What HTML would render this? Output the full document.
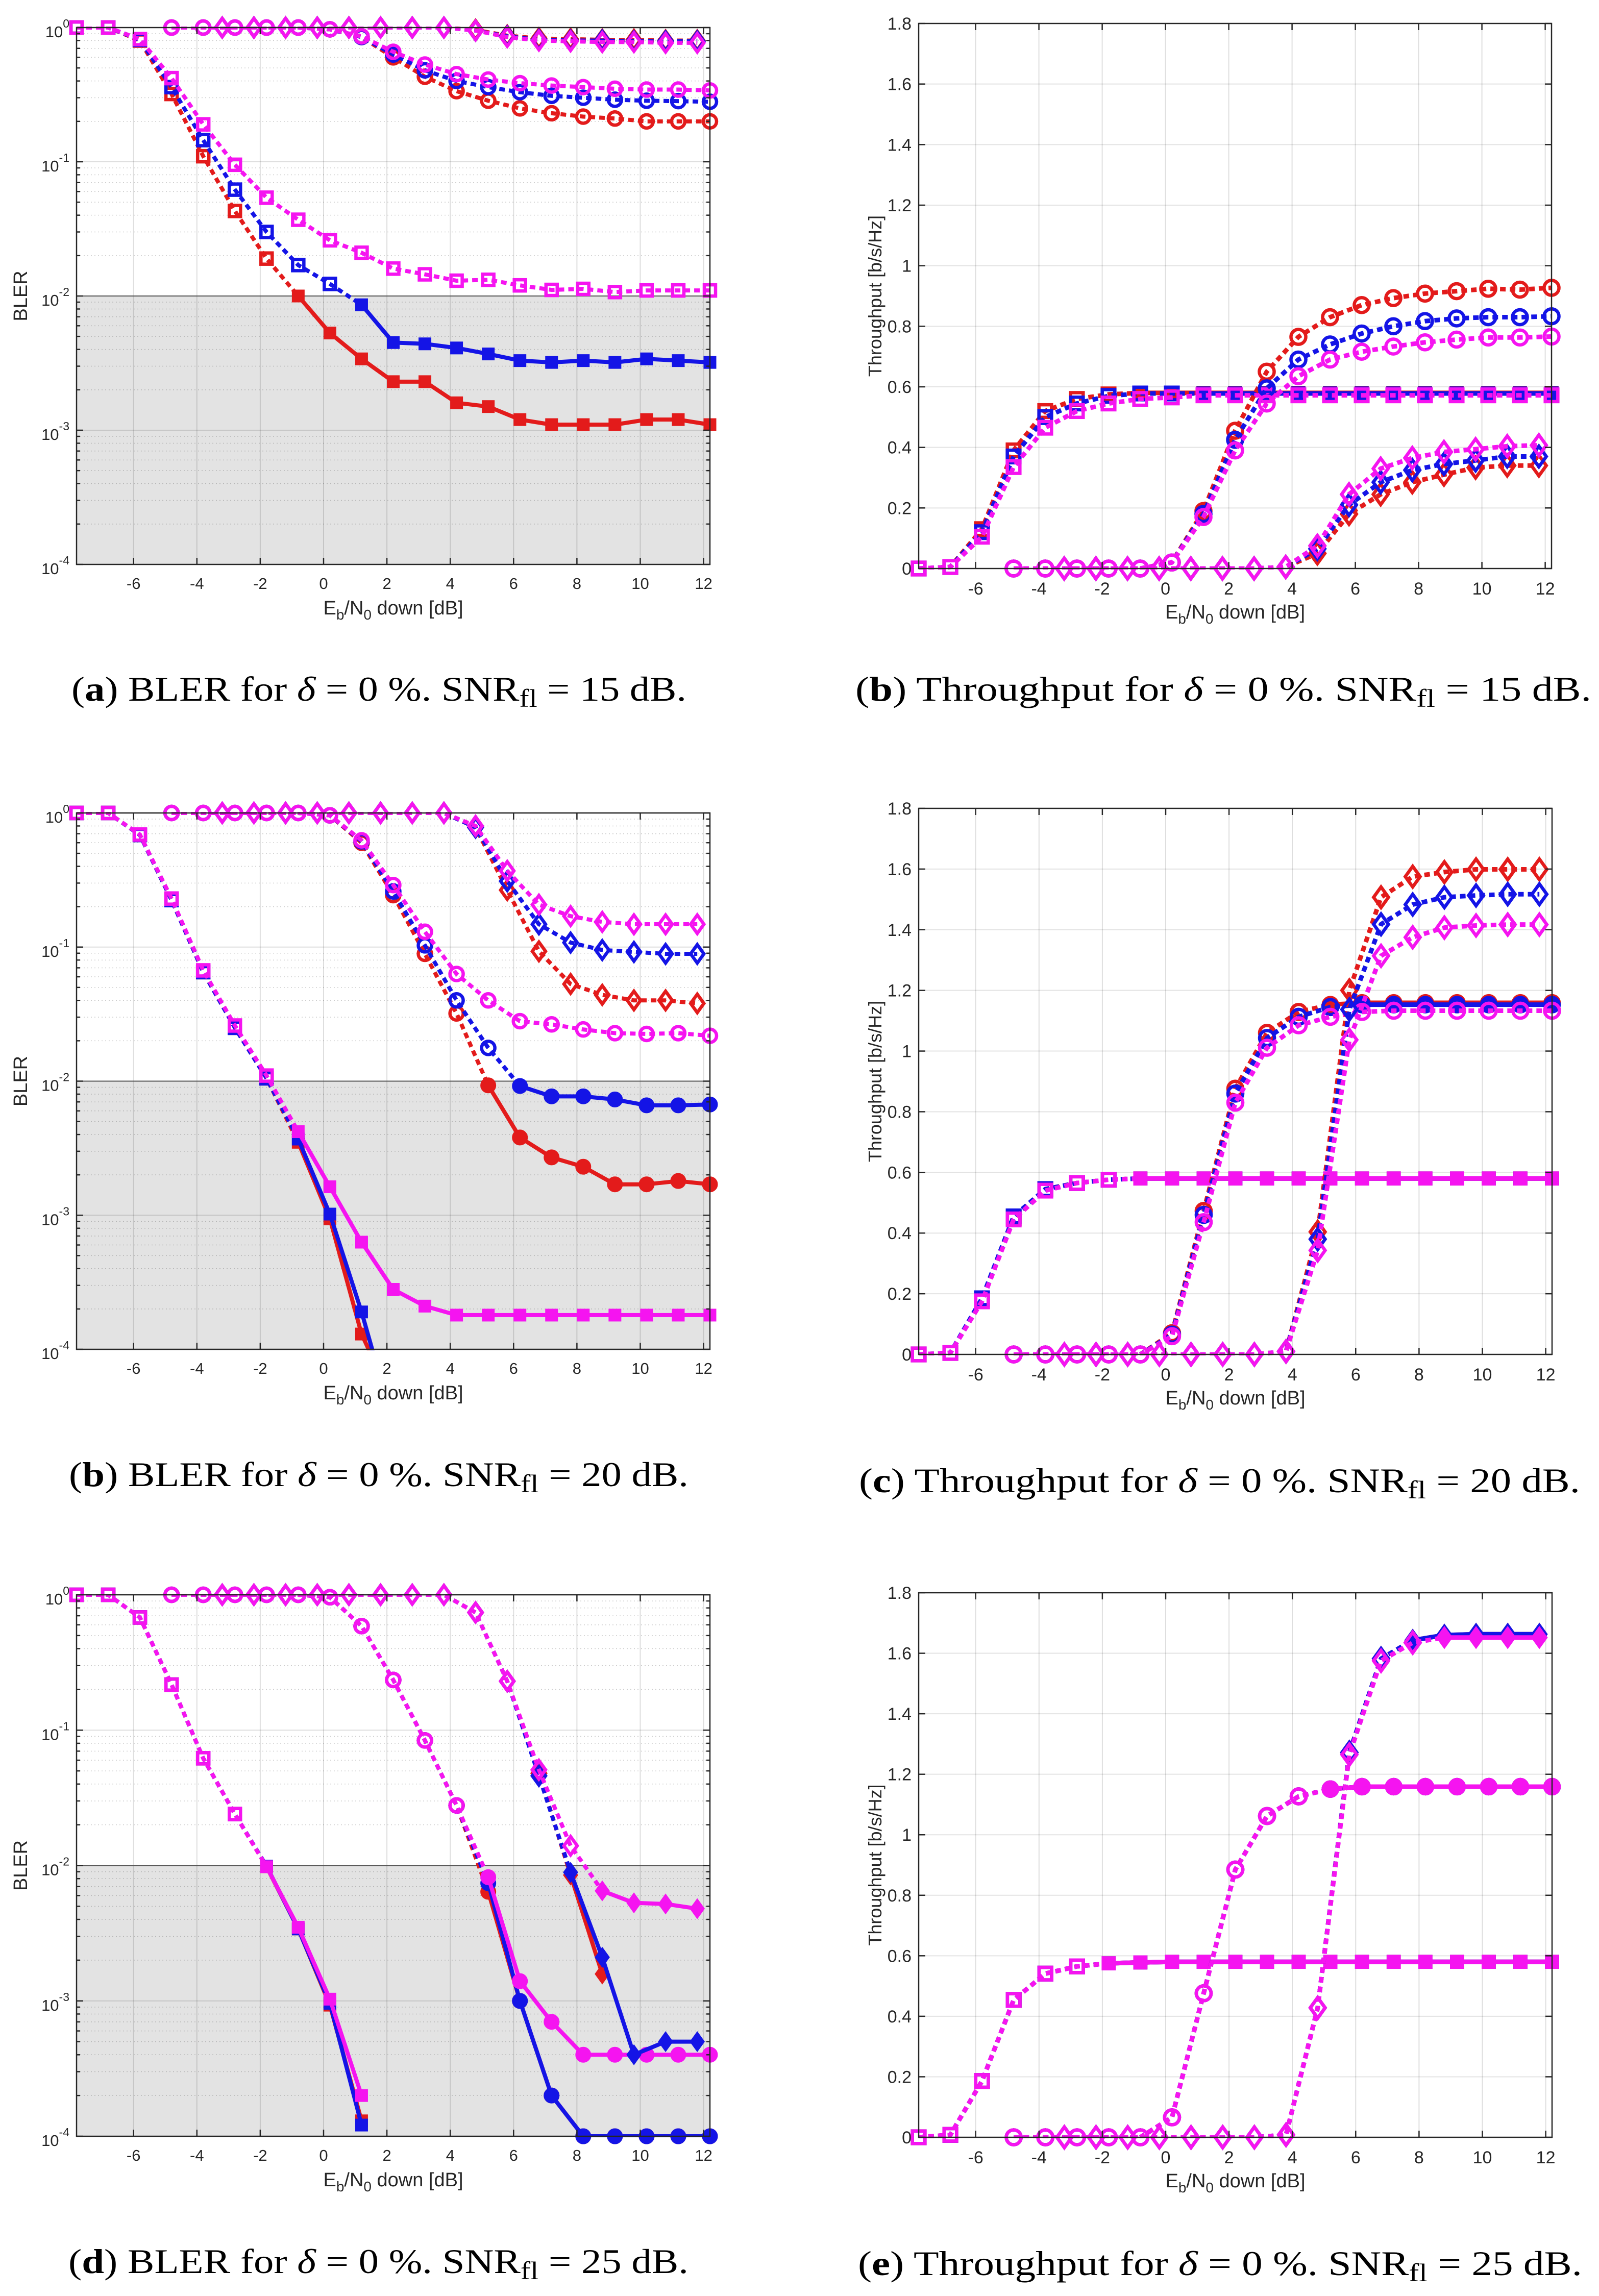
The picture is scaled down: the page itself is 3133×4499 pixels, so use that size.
<!DOCTYPE html>
<html><head><meta charset="utf-8"><title>BLER and throughput figure</title>
<style>
html,body{margin:0;padding:0;background:#fff;}
svg{display:block;}
</style></head>
<body>
<svg id="fig" width="3133" height="4499" viewBox="0 0 3133 4499" xmlns="http://www.w3.org/2000/svg">
<rect x="0" y="0" width="3133" height="4499" fill="#fff"/>
<g font-family="'Liberation Serif', serif" font-size="68" fill="#000">
<text x="140" y="1373" textLength="1205" lengthAdjust="spacingAndGlyphs">(<tspan font-weight="bold">a</tspan>) BLER for <tspan font-style="italic">δ</tspan> = 0 %. SNR<tspan font-size="50" dy="12">fl</tspan><tspan dy="-12"> = 15 dB.</tspan></text>
<text x="1676" y="1373" textLength="1442" lengthAdjust="spacingAndGlyphs">(<tspan font-weight="bold">b</tspan>) Throughput for <tspan font-style="italic">δ</tspan> = 0 %. SNR<tspan font-size="50" dy="12">fl</tspan><tspan dy="-12"> = 15 dB.</tspan></text>
<text x="135" y="2912" textLength="1214" lengthAdjust="spacingAndGlyphs">(<tspan font-weight="bold">b</tspan>) BLER for <tspan font-style="italic">δ</tspan> = 0 %. SNR<tspan font-size="50" dy="12">fl</tspan><tspan dy="-12"> = 20 dB.</tspan></text>
<text x="1683" y="2924" textLength="1413" lengthAdjust="spacingAndGlyphs">(<tspan font-weight="bold">c</tspan>) Throughput for <tspan font-style="italic">δ</tspan> = 0 %. SNR<tspan font-size="50" dy="12">fl</tspan><tspan dy="-12"> = 20 dB.</tspan></text>
<text x="134" y="4454" textLength="1215" lengthAdjust="spacingAndGlyphs">(<tspan font-weight="bold">d</tspan>) BLER for <tspan font-style="italic">δ</tspan> = 0 %. SNR<tspan font-size="50" dy="12">fl</tspan><tspan dy="-12"> = 25 dB.</tspan></text>
<text x="1681" y="4458" textLength="1419" lengthAdjust="spacingAndGlyphs">(<tspan font-weight="bold">e</tspan>) Throughput for <tspan font-style="italic">δ</tspan> = 0 %. SNR<tspan font-size="50" dy="12">fl</tspan><tspan dy="-12"> = 25 dB.</tspan></text>
</g>
</svg>
<script>
// ---- categories (Eb/N0 down, dB) ----
const xSq = [-7.8,-6.8,-5.8,-4.8,-3.8,-2.8,-1.8,-0.8,0.2,1.2,2.2,3.2,4.2,5.2,6.2,7.2,8.2,9.2,10.2,11.2,12.2];
const xCi = [-4.8,-3.8,-2.8,-1.8,-0.8,0.2,1.2,2.2,3.2,4.2,5.2,6.2,7.2,8.2,9.2,10.2,11.2,12.2];
const xDi = [-3.2,-2.2,-1.2,-0.2,0.8,1.8,2.8,3.8,4.8,5.8,6.8,7.8,8.8,9.8,10.8,11.8];
const xTicks = [-6,-4,-2,0,2,4,6,8,10,12];
const xTickLabels = ['-6','-4','-2','0','2','4','6','8','10','12'];
const blerTickExp = ['0','-1','-2','-3','-4'];
const thrTicks = [0,0.2,0.4,0.6,0.8,1,1.2,1.4,1.6,1.8];
const thrTickLabels = ['0','0.2','0.4','0.6','0.8','1','1.2','1.4','1.6','1.8'];

// ---- row 1: SNRfl = 15 dB ----
const a_sq_r = [1,1,0.8,0.32,0.11,0.043,0.019,0.01,0.0053,0.0034,0.0023,0.0023,0.0016,0.0015,0.0012,0.0011,0.0011,0.0011,0.0012,0.0012,0.0011];
const a_sq_b = [1,1,0.81,0.36,0.145,0.062,0.03,0.017,0.0123,0.0086,0.0045,0.0044,0.0041,0.0037,0.0033,0.0032,0.0033,0.0032,0.0034,0.0033,0.0032];
const a_sq_m = [1,1,0.82,0.42,0.19,0.095,0.054,0.037,0.026,0.021,0.016,0.0145,0.013,0.0132,0.012,0.0111,0.0113,0.0107,0.011,0.011,0.011];
const a_ci_r = [1,1,1,1,1,0.97,0.85,0.6,0.43,0.336,0.285,0.25,0.23,0.217,0.21,0.2,0.2,0.2];
const a_ci_b = [1,1,1,1,1,0.97,0.85,0.63,0.48,0.4,0.36,0.33,0.31,0.3,0.29,0.285,0.283,0.28];
const a_ci_m = [1,1,1,1,1,0.97,0.86,0.66,0.53,0.45,0.41,0.385,0.37,0.36,0.35,0.345,0.345,0.34];
const a_di_r = [1,1,1,1,1,1,1,1,0.96,0.87,0.83,0.82,0.81,0.81,0.8,0.8];
const a_di_b = [1,1,1,1,1,1,1,1,0.95,0.86,0.81,0.8,0.8,0.79,0.79,0.79];
const a_di_m = [1,1,1,1,1,1,1,1,0.95,0.85,0.8,0.79,0.78,0.78,0.77,0.77];
const b_sq_r = [0,0.005,0.13,0.39,0.52,0.56,0.575,0.58,0.58,0.58,0.58,0.58,0.58,0.58,0.58,0.58,0.58,0.58,0.58,0.58,0.58];
const b_sq_b = [0,0.005,0.12,0.37,0.5,0.545,0.57,0.578,0.578,0.578,0.578,0.578,0.578,0.578,0.578,0.578,0.578,0.578,0.578,0.578,0.578];
const b_sq_m = [0,0.005,0.105,0.335,0.465,0.52,0.545,0.56,0.565,0.572,0.572,0.572,0.572,0.572,0.572,0.572,0.572,0.572,0.572,0.572,0.572];
const b_ci_r = [0,0,0,0,0,0.02,0.19,0.455,0.65,0.765,0.83,0.87,0.893,0.908,0.916,0.924,0.921,0.927];
const b_ci_b = [0,0,0,0,0,0.02,0.18,0.425,0.595,0.69,0.74,0.776,0.8,0.817,0.826,0.83,0.83,0.833];
const b_ci_m = [0,0,0,0,0,0.02,0.17,0.39,0.545,0.635,0.69,0.716,0.733,0.747,0.756,0.763,0.763,0.766];
const b_di_r = [0,0,0,0,0,0,0,0.005,0.05,0.18,0.245,0.285,0.31,0.333,0.34,0.34];
const b_di_b = [0,0,0,0,0,0,0,0.005,0.065,0.21,0.285,0.325,0.345,0.357,0.37,0.37];
const b_di_m = [0,0,0,0,0,0,0,0.005,0.075,0.245,0.33,0.365,0.385,0.394,0.404,0.407];

// ---- row 2: SNRfl = 20 dB ----
const c_sq_r = [1,1,0.685,0.224,0.065,0.025,0.0105,0.0035,0.00094,0.00013,0.00004,null,null,null,null,null,null,null,null,null,null];
const c_sq_b = [1,1,0.685,0.224,0.065,0.025,0.0105,0.0037,0.00102,0.00019,0.000028,null,null,null,null,null,null,null,null,null,null];
const c_sq_m = [1,1,0.69,0.23,0.067,0.026,0.011,0.0042,0.00163,0.00063,0.00028,0.00021,0.00018,0.00018,0.00018,0.00018,0.00018,0.00018,0.00018,0.00018,0.00018];
const c_ci_r = [1,1,1,1,1,0.96,0.6,0.244,0.089,0.032,0.0093,0.0038,0.0027,0.0023,0.0017,0.0017,0.0018,0.0017];
const c_ci_b = [1,1,1,1,1,0.96,0.615,0.26,0.103,0.04,0.0177,0.0092,0.0077,0.0077,0.0073,0.0066,0.0066,0.0067];
const c_ci_m = [1,1,1,1,1,0.96,0.625,0.29,0.13,0.063,0.04,0.028,0.0265,0.0243,0.0228,0.0225,0.0228,0.0218];
const c_di_r = [1,1,1,1,1,1,1,1,0.78,0.266,0.093,0.053,0.044,0.04,0.04,0.038];
const c_di_b = [1,1,1,1,1,1,1,1,0.78,0.31,0.148,0.108,0.095,0.092,0.089,0.089];
const c_di_m = [1,1,1,1,1,1,1,1,0.8,0.37,0.207,0.17,0.154,0.148,0.148,0.148];
const d_sq_r = [0,0.005,0.18,0.45,0.545,0.565,0.576,0.58,0.58,0.58,0.58,0.58,0.58,0.58,0.58,0.58,0.58,0.58,0.58,0.58,0.58];
const d_sq_b = [0,0.005,0.185,0.455,0.545,0.565,0.576,0.58,0.58,0.58,0.58,0.58,0.58,0.58,0.58,0.58,0.58,0.58,0.58,0.58,0.58];
const d_sq_m = [0,0.005,0.175,0.445,0.54,0.565,0.576,0.58,0.58,0.58,0.58,0.58,0.58,0.58,0.58,0.58,0.58,0.58,0.58,0.58,0.58];
const d_ci_r = [0,0,0,0,0,0.07,0.473,0.876,1.06,1.129,1.153,1.159,1.159,1.159,1.159,1.159,1.159,1.159];
const d_ci_b = [0,0,0,0,0,0.065,0.46,0.86,1.043,1.113,1.145,1.153,1.153,1.153,1.153,1.153,1.153,1.153];
const d_ci_m = [0,0,0,0,0,0.06,0.436,0.83,1.011,1.085,1.113,1.129,1.133,1.133,1.133,1.133,1.133,1.133];
const d_di_r = [0,0,0,0,0,0,0,0.01,0.404,1.2,1.507,1.575,1.59,1.599,1.599,1.599];
const d_di_b = [0,0,0,0,0,0,0,0.01,0.38,1.137,1.418,1.483,1.507,1.513,1.517,1.517];
const d_di_m = [0,0,0,0,0,0,0,0.01,0.343,1.037,1.314,1.375,1.407,1.414,1.417,1.417];

// ---- row 3: SNRfl = 25 dB ----
const e_sq_r = [1,1,0.68,0.217,0.062,0.024,0.0098,0.0034,0.00093,0.00013,null,null,null,null,null,null,null,null,null,null,null];
const e_sq_b = [1,1,0.68,0.217,0.062,0.024,0.0099,0.0034,0.00096,0.000121,null,null,null,null,null,null,null,null,null,null,null];
const e_sq_m = [1,1,0.68,0.217,0.062,0.024,0.0098,0.0035,0.00103,0.0002,null,null,null,null,null,null,null,null,null,null,null];
const e_ci_r = [1,1,1,1,1,0.96,0.587,0.235,0.084,0.0278,0.0064,0.001,0.0002,0.0001,0.0001,0.0001,0.0001,0.0001];
const e_ci_b = [1,1,1,1,1,0.96,0.587,0.235,0.084,0.0278,0.0074,0.001,0.0002,0.0001,0.0001,0.0001,0.0001,0.0001];
const e_ci_m = [1,1,1,1,1,0.96,0.587,0.235,0.084,0.0278,0.0082,0.0014,0.0007,0.0004,0.0004,0.0004,0.0004,0.0004];
const e_di_r = [1,1,1,1,1,1,1,1,0.74,0.23,0.048,0.0085,0.00158,null,null,null];
const e_di_b = [1,1,1,1,1,1,1,1,0.74,0.23,0.046,0.0089,0.0021,0.0004,0.0005,0.0005];
const e_di_m = [1,1,1,1,1,1,1,1,0.74,0.23,0.051,0.014,0.0065,0.0053,0.0052,0.0048];
const f_sq_r = [0,0.008,0.186,0.454,0.541,0.565,0.575,0.578,0.58,0.58,0.58,0.58,0.58,0.58,0.58,0.58,0.58,0.58,0.58,0.58,0.58];
const f_sq_b = [0,0.008,0.186,0.454,0.541,0.565,0.575,0.578,0.58,0.58,0.58,0.58,0.58,0.58,0.58,0.58,0.58,0.58,0.58,0.58,0.58];
const f_sq_m = [0,0.008,0.186,0.454,0.541,0.565,0.575,0.578,0.58,0.58,0.58,0.58,0.58,0.58,0.58,0.58,0.58,0.58,0.58,0.58,0.58];
const f_ci_r = [0,0,0,0,0,0.066,0.476,0.885,1.062,1.127,1.151,1.159,1.159,1.159,1.159,1.159,1.159,1.159];
const f_ci_b = [0,0,0,0,0,0.066,0.476,0.885,1.062,1.127,1.151,1.159,1.159,1.159,1.159,1.159,1.159,1.159];
const f_ci_m = [0,0,0,0,0,0.066,0.476,0.885,1.062,1.127,1.151,1.159,1.159,1.159,1.159,1.159,1.159,1.159];
const f_di_r = [0,0,0,0,0,0,0,0.008,0.428,1.272,1.582,1.643,1.66,1.663,1.663,1.663];
const f_di_b = [0,0,0,0,0,0,0,0.008,0.428,1.272,1.582,1.643,1.66,1.663,1.663,1.663];
const f_di_m = [0,0,0,0,0,0,0,0.008,0.428,1.265,1.575,1.635,1.652,1.652,1.652,1.652];

const RED = '#e31b1b', BLUE = '#1414e6', MAG = '#f514f0';
const XMIN = -7.8, XMAX = 12.2;
const NS = 'http://www.w3.org/2000/svg';
const svg = document.getElementById('fig');
let clipId = 0;

function mk(tag, attrs, parent) {
  const e = document.createElementNS(NS, tag);
  for (const k in attrs) e.setAttribute(k, attrs[k]);
  parent.appendChild(e);
  return e;
}

function seriesList(sq, ci, di, bsq, bci, bdi) {
  return [
    {x: xSq, y: sq[0], b: bsq[0], c: RED, m: 's', n: 'red-square'},
    {x: xSq, y: sq[1], b: bsq[1], c: BLUE, m: 's', n: 'blue-square'},
    {x: xSq, y: sq[2], b: bsq[2], c: MAG, m: 's', n: 'magenta-square'},
    {x: xCi, y: ci[0], b: bci[0], c: RED, m: 'o', n: 'red-circle'},
    {x: xCi, y: ci[1], b: bci[1], c: BLUE, m: 'o', n: 'blue-circle'},
    {x: xCi, y: ci[2], b: bci[2], c: MAG, m: 'o', n: 'magenta-circle'},
    {x: xDi, y: di[0], b: bdi[0], c: RED, m: 'd', n: 'red-diamond'},
    {x: xDi, y: di[1], b: bdi[1], c: BLUE, m: 'd', n: 'blue-diamond'},
    {x: xDi, y: di[2], b: bdi[2], c: MAG, m: 'd', n: 'magenta-diamond'}
  ];
}

function drawPanel(p) {
  const bler = p.type === 'bler';
  const g = mk('g', {}, svg);
  
  
  const W = p.R - p.L, H = p.B - p.T;
  const xs = v => p.L + (v - XMIN) / (XMAX - XMIN) * W;
  const ys = bler ? (v => p.T + (-Math.log10(v)) / 4 * H) : (v => p.B - v / 1.8 * H);
  const LW = bler ? 8 : 9;

  const bg = mk('rect', {x: p.L, y: p.T, width: W, height: H, fill: '#fff'}, g);
  
  
  if (bler) {
    const sh = mk('rect', {x: p.L, y: ys(0.01), width: W, height: p.B - ys(0.01), fill: '#e3e3e3'}, g);
    
    
  }
  const grid = mk('g', {}, g);
  
  
  xTicks.forEach(t => mk('line', {x1: xs(t), x2: xs(t), y1: p.T, y2: p.B, stroke: 'rgba(0,0,0,0.13)', 'stroke-width': 2}, grid));
  if (bler) {
    for (let d = 0; d >= -4; d--) {
      mk('line', {x1: p.L, x2: p.R, y1: ys(Math.pow(10, d)), y2: ys(Math.pow(10, d)), stroke: 'rgba(0,0,0,0.13)', 'stroke-width': 2}, grid);
      if (d > -4) for (let k = 2; k <= 9; k++) {
        const yy = ys(k * Math.pow(10, d - 1));
        mk('line', {x1: p.L, x2: p.R, y1: yy, y2: yy, stroke: 'rgba(0,0,0,0.2)', 'stroke-width': 1.5, 'stroke-dasharray': '2 5'}, grid);
      }
    }
    mk('line', {x1: p.L, x2: p.R, y1: ys(0.01), y2: ys(0.01), stroke: '#555', 'stroke-width': 2}, grid);
  } else {
    thrTicks.forEach(t => mk('line', {x1: p.L, x2: p.R, y1: ys(t), y2: ys(t), stroke: 'rgba(0,0,0,0.11)', 'stroke-width': 2}, grid));
  }
  clipId++;
  const cp = mk('clipPath', {id: 'clip' + clipId}, g);
  mk('rect', {x: p.L, y: p.T - 2, width: W + 2, height: H + 4}, cp);

  p.series.forEach(s => {
    const sg = mk('g', {}, g);
    
    
    const lg = mk('g', {'clip-path': 'url(#clip' + clipId + ')'}, sg);
    const bv = i => (s.b[i] === null || s.b[i] === undefined) ? 0 : s.b[i];
    const ok = i => s.y[i] !== null && s.y[i] !== undefined;
    const solidPt = i => bv(i) <= 0.0101;
    let run = null, runStyle = null;
    const flush = () => {
      if (run && run.length > 1) {
        const pl = mk('polyline', {points: run.map(q => q.join(',')).join(' '), fill: 'none', stroke: s.c, 'stroke-width': LW, 'stroke-linejoin': 'round'}, lg);
        if (!runStyle) pl.setAttribute('stroke-dasharray', '11 8');
        
        
      }
      run = null;
    };
    for (let i = 0; i < s.x.length - 1; i++) {
      if (!ok(i) || !ok(i + 1)) { flush(); continue; }
      const st = solidPt(i) && solidPt(i + 1);
      const p0 = [xs(s.x[i]), ys(s.y[i])], p1 = [xs(s.x[i + 1]), ys(s.y[i + 1])];
      if (run && st === runStyle) run.push(p1);
      else { flush(); run = [p0, p1]; runStyle = st; }
    }
    flush();
    const k = bler ? 1 : 1.12;
    for (let i = 0; i < s.x.length; i++) {
      if (!ok(i)) continue;
      if (bler && s.y[i] < 0.99e-4) continue;
      const cx = xs(s.x[i]), cy = ys(s.y[i]);
      const filled = solidPt(i);
      const fa = filled ? {fill: s.c, stroke: s.c, 'stroke-width': 3} : {fill: 'none', stroke: s.c, 'stroke-width': 6.5};
      let mEl;
      if (s.m === 's') mEl = mk('rect', Object.assign({x: cx - 11 * k, y: cy - 11 * k, width: 22 * k, height: 22 * k}, fa), sg);
      else if (s.m === 'o') mEl = mk('circle', Object.assign({cx: cx, cy: cy, r: (filled ? 14 : 13) * k}, fa), sg);
      else mEl = mk('polygon', Object.assign({points: [[cx, cy - 18 * k], [cx + 13 * k, cy], [cx, cy + 18 * k], [cx - 13 * k, cy]].map(q => q.join(',')).join(' ')}, fa), sg);
      
      
    }
  });

  const ax = mk('g', {stroke: '#262626', 'stroke-width': 2.5, fill: 'none'}, g);
  
  
  mk('rect', {x: p.L, y: p.T, width: W, height: H}, ax);
  xTicks.forEach(t => {
    mk('line', {x1: xs(t), x2: xs(t), y1: p.B, y2: p.B - 13}, ax);
    mk('line', {x1: xs(t), x2: xs(t), y1: p.T, y2: p.T + 13}, ax);
  });
  const fs = bler ? 31 : 34;
  const txt = mk('g', {'font-family': "'Liberation Sans', sans-serif", fill: '#262626', 'font-size': fs}, g);
  
  
  xTicks.forEach((t, i) => {
    const tl = mk('text', {x: xs(t), y: p.B + (bler ? 48 : 51), 'text-anchor': 'middle'}, txt);
    tl.textContent = xTickLabels[i];
    
    
  });
  if (bler) {
    for (let d = 0; d >= -4; d--) {
      const yy = ys(Math.pow(10, d));
      mk('line', {x1: p.L, x2: p.L + 13, y1: yy, y2: yy}, ax);
      mk('line', {x1: p.R, x2: p.R - 13, y1: yy, y2: yy}, ax);
      if (d > -4) for (let k = 2; k <= 9; k++) {
        const y2 = ys(k * Math.pow(10, d - 1));
        mk('line', {x1: p.L, x2: p.L + 7, y1: y2, y2: y2}, ax);
        mk('line', {x1: p.R, x2: p.R - 7, y1: y2, y2: y2}, ax);
      }
      const tl = mk('text', {x: p.L - 14, y: yy + 19, 'text-anchor': 'end'}, txt);
      
      
      tl.appendChild(document.createTextNode('10'));
      const sup = mk('tspan', {dy: -19, 'font-size': 23}, tl);
      sup.textContent = blerTickExp[-d];
    }
  } else {
    thrTicks.forEach((t, i) => {
      const yy = ys(t);
      mk('line', {x1: p.L, x2: p.L + 13, y1: yy, y2: yy}, ax);
      mk('line', {x1: p.R, x2: p.R - 13, y1: yy, y2: yy}, ax);
      const tl = mk('text', {x: p.L - 14, y: yy + 12, 'text-anchor': 'end'}, txt);
      tl.textContent = thrTickLabels[i];
      
      
    });
  }
  const xl = mk('text', {x: (p.L + p.R) / 2, y: p.B + 98, 'text-anchor': 'middle', 'font-family': "'Liberation Sans', sans-serif", 'font-size': 38, fill: '#262626'}, g);
  
  
  xl.appendChild(document.createTextNode('E'));
  mk('tspan', {dy: 10, 'font-size': 28}, xl).textContent = 'b';
  mk('tspan', {dy: -10}, xl).textContent = '/N';
  mk('tspan', {dy: 10, 'font-size': 28}, xl).textContent = '0';
  mk('tspan', {dy: -10}, xl).textContent = ' down [dB]';
  const my = (p.T + p.B) / 2;
  const yx = bler ? 53 : p.L - 73;
  const yl = mk('text', {x: yx, y: my, 'text-anchor': 'middle', transform: 'rotate(-90 ' + yx + ' ' + my + ')', 'font-family': "'Liberation Sans', sans-serif", 'font-size': bler ? 38 : 36, fill: '#262626'}, g);
  yl.textContent = bler ? 'BLER' : 'Throughput [b/s/Hz]';
  
  
}

drawPanel({name: 'bler-chart-15db', type: 'bler', L: 150, R: 1391, T: 54, B: 1106,
  series: seriesList([a_sq_r, a_sq_b, a_sq_m], [a_ci_r, a_ci_b, a_ci_m], [a_di_r, a_di_b, a_di_m], [a_sq_r, a_sq_b, a_sq_m], [a_ci_r, a_ci_b, a_ci_m], [a_di_r, a_di_b, a_di_m])});
drawPanel({name: 'throughput-chart-15db', type: 'thr', L: 1800, R: 3040, T: 46, B: 1114,
  series: seriesList([b_sq_r, b_sq_b, b_sq_m], [b_ci_r, b_ci_b, b_ci_m], [b_di_r, b_di_b, b_di_m], [a_sq_r, a_sq_b, a_sq_m], [a_ci_r, a_ci_b, a_ci_m], [a_di_r, a_di_b, a_di_m])});
drawPanel({name: 'bler-chart-20db', type: 'bler', L: 150, R: 1391, T: 1593, B: 2644,
  series: seriesList([c_sq_r, c_sq_b, c_sq_m], [c_ci_r, c_ci_b, c_ci_m], [c_di_r, c_di_b, c_di_m], [c_sq_r, c_sq_b, c_sq_m], [c_ci_r, c_ci_b, c_ci_m], [c_di_r, c_di_b, c_di_m])});
drawPanel({name: 'throughput-chart-20db', type: 'thr', L: 1800, R: 3041, T: 1584, B: 2654,
  series: seriesList([d_sq_r, d_sq_b, d_sq_m], [d_ci_r, d_ci_b, d_ci_m], [d_di_r, d_di_b, d_di_m], [c_sq_r, c_sq_b, c_sq_m], [c_ci_r, c_ci_b, c_ci_m], [c_di_r, c_di_b, c_di_m])});
drawPanel({name: 'bler-chart-25db', type: 'bler', L: 150, R: 1391, T: 3125, B: 4186,
  series: seriesList([e_sq_r, e_sq_b, e_sq_m], [e_ci_r, e_ci_b, e_ci_m], [e_di_r, e_di_b, e_di_m], [e_sq_r, e_sq_b, e_sq_m], [e_ci_r, e_ci_b, e_ci_m], [e_di_r, e_di_b, e_di_m])});
drawPanel({name: 'throughput-chart-25db', type: 'thr', L: 1800, R: 3041, T: 3121, B: 4188,
  series: seriesList([f_sq_r, f_sq_b, f_sq_m], [f_ci_r, f_ci_b, f_ci_m], [f_di_r, f_di_b, f_di_m], [e_sq_r, e_sq_b, e_sq_m], [e_ci_r, e_ci_b, e_ci_m], [e_di_r, e_di_b, e_di_m])});
</script>
</body></html>
